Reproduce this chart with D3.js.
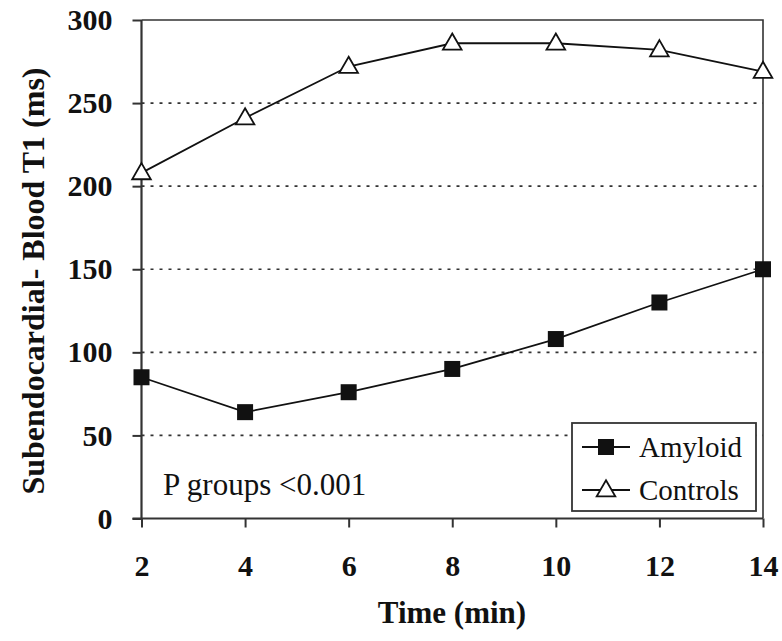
<!DOCTYPE html>
<html>
<head>
<meta charset="utf-8">
<script src="https://cdn.jsdelivr.net/npm/d3@7"></script>
<style>
  body { margin: 0; background: #fff; }
  svg { display: block; font-family: "Liberation Serif", "Times New Roman", serif; }
</style>
</head>
<body>
<div id="chart"></div>
<script>
// time points (min)
var times = [2, 4, 6, 8, 10, 12, 14];
// subendocardial - blood T1 (ms)
var amyloid = [85, 64, 76, 90, 108, 130, 150];
var controls = [208, 241, 272, 286, 286, 282, 269];
var yTicks = [0, 50, 100, 150, 200, 250, 300];
var gridTicks = [50, 100, 150, 200, 250];

var width = 782, height = 641;
var x0 = 141.5, x1 = 763, yTop = 20, yBot = 518.5;

var svg = d3.select("#chart").append("svg")
    .attr("width", width)
    .attr("height", height);

var x = d3.scaleLinear().domain([2, 14]).range([x0, x1]);
var y = d3.scaleLinear().domain([0, 300]).range([yBot, yTop]);

// dotted gridlines
svg.append("g").selectAll("line")
    .data(gridTicks)
    .enter().append("line")
    .attr("x1", x0).attr("x2", x1)
    .attr("y1", function(d) { return y(d); })
    .attr("y2", function(d) { return y(d); })
    .style("stroke", "#333")
    .style("stroke-width", 1.6)
    .style("stroke-dasharray", "3,6");

// frame top + right
svg.append("path")
    .attr("d", "M" + x0 + "," + yTop + "H" + x1 + "V" + yBot)
    .style("fill", "none")
    .style("stroke", "#333")
    .style("stroke-width", 1.6);

// y axis
var yAxis = svg.append("g")
    .attr("transform", "translate(" + x0 + ",0)")
    .call(d3.axisLeft(y).tickValues(yTicks).tickSize(9).tickPadding(20));
// x axis
var xAxis = svg.append("g")
    .attr("transform", "translate(0," + yBot + ")")
    .call(d3.axisBottom(x).tickValues(times).tickSize(9).tickPadding(27));

[yAxis, xAxis].forEach(function(a) {
    a.select(".domain").style("stroke", "#333").style("stroke-width", 2.2);
    a.selectAll(".tick line").style("stroke", "#333").style("stroke-width", 2);
    a.selectAll(".tick text")
        .style("font-family", "Liberation Serif, serif")
        .style("font-size", "30px")
        .style("font-weight", "bold")
        .style("fill", "#111");
});
yAxis.select(".domain").attr("d", "M0," + yBot + "V" + yTop);
xAxis.select(".domain").attr("d", "M" + (x0 - 9) + ",0H" + x1);

var line = d3.line()
    .x(function(d, i) { return x(times[i]); })
    .y(function(d) { return y(d); });

svg.append("path").datum(controls)
    .attr("d", line)
    .style("fill", "none").style("stroke", "#111").style("stroke-width", 1.8);
svg.append("path").datum(amyloid)
    .attr("d", line)
    .style("fill", "none").style("stroke", "#111").style("stroke-width", 1.8);

var tri = d3.symbol().type(d3.symbolTriangle).size(150);

svg.append("g").selectAll("path")
    .data(controls)
    .enter().append("path")
    .attr("d", tri)
    .attr("transform", function(d, i) { return "translate(" + x(times[i]) + "," + (y(d) + 1) + ")"; })
    .style("fill", "#fff").style("stroke", "#111").style("stroke-width", 1.8);

svg.append("g").selectAll("rect")
    .data(amyloid)
    .enter().append("rect")
    .attr("x", function(d, i) { return x(times[i]) - 8; })
    .attr("y", function(d) { return y(d) - 8; })
    .attr("width", 16).attr("height", 16)
    .style("fill", "#111");

// annotation
svg.append("text")
    .attr("x", 163).attr("y", 495)
    .style("font-size", "31px")
    .style("fill", "#111")
    .text("P groups <0.001");

// legend
var legend = svg.append("g");
legend.append("rect")
    .attr("x", 572).attr("y", 423)
    .attr("width", 184).attr("height", 88)
    .style("fill", "#fff").style("stroke", "#333").style("stroke-width", 1.8);

var legItems = [{name: "Amyloid", y: 447, kind: "sq"}, {name: "Controls", y: 490, kind: "tri"}];
legItems.forEach(function(d) {
    legend.append("line")
        .attr("x1", 582).attr("x2", 630)
        .attr("y1", d.y).attr("y2", d.y)
        .style("stroke", "#111").style("stroke-width", 1.8);
    if (d.kind === "sq") {
        legend.append("rect")
            .attr("x", 598).attr("y", d.y - 8)
            .attr("width", 16).attr("height", 16)
            .style("fill", "#111");
    } else {
        legend.append("path")
            .attr("d", tri)
            .attr("transform", "translate(606," + (d.y + 1) + ")")
            .style("fill", "#fff").style("stroke", "#111").style("stroke-width", 1.8);
    }
    legend.append("text")
        .attr("x", 639).attr("y", d.y + 10)
        .style("font-size", "29px")
        .style("fill", "#111")
        .text(d.name);
});

// axis titles
svg.append("text")
    .attr("x", 452).attr("y", 623)
    .attr("text-anchor", "middle")
    .style("font-size", "31px")
    .style("font-weight", "bold")
    .style("fill", "#111")
    .text("Time (min)");

svg.append("text")
    .attr("transform", "translate(44,281) rotate(-90)")
    .attr("text-anchor", "middle")
    .style("font-size", "32px")
    .style("font-weight", "bold")
    .style("fill", "#111")
    .text("Subendocardial- Blood T1 (ms)");
</script>
</body>
</html>
